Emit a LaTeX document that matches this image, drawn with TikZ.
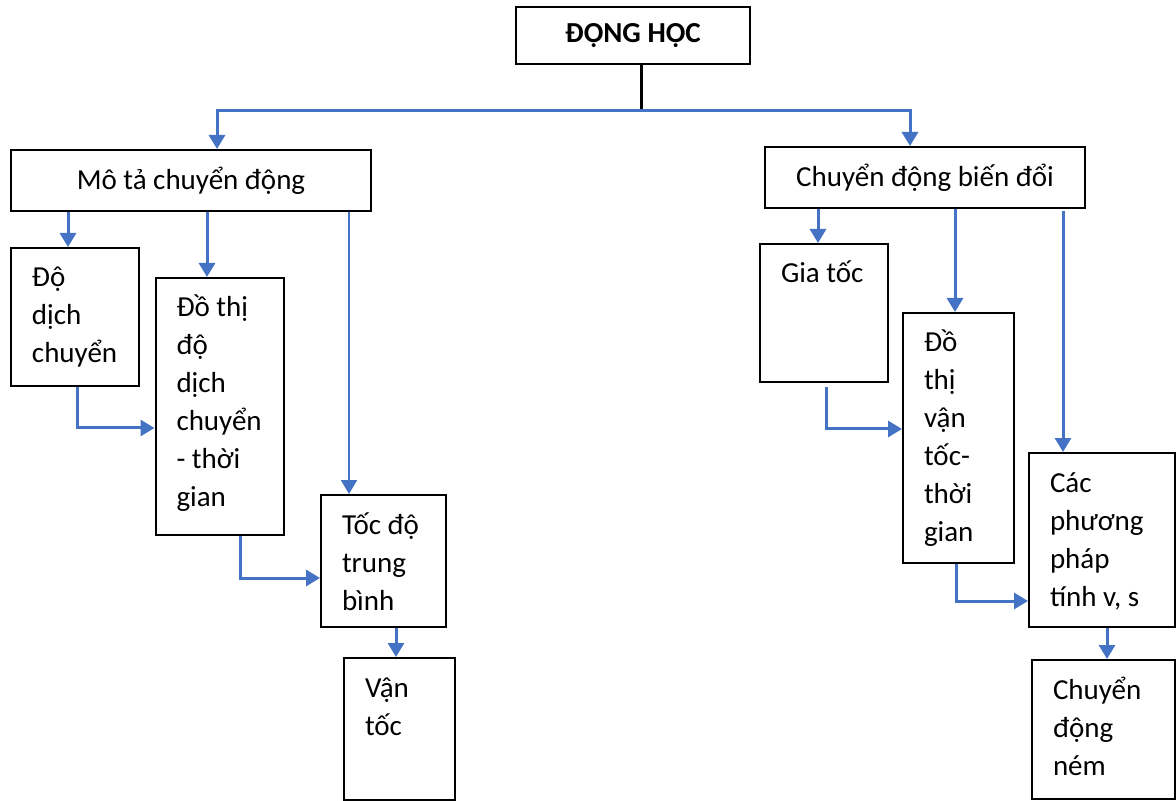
\documentclass[tikz,border=0pt]{standalone}
\usepackage{fontspec}
\setmainfont{Carlito}
\usetikzlibrary{arrows.meta}
\definecolor{linkblue}{RGB}{68,114,196}
\hyphenpenalty=10000

\begin{document}
\begin{tikzpicture}[node distance=70pt,
  font=\fontsize{14.5}{19}\selectfont,
  box/.style={rectangle, draw=black, line width=1pt, inner sep=0pt, text centered},
  tallbox/.style={rectangle, draw=black, line width=1pt, align=flush left, inner xsep=10.5pt, inner ysep=10.5pt, text height=9pt},
  link/.style={draw=linkblue, line width=1.5pt, -{Triangle[width=8pt,length=7pt]}},
  thinlink/.style={link, line width=1pt}]
\useasboundingbox (0,0) rectangle (588pt,-400.5pt);

% Tiêu đề
\node (donghoc) [box, minimum width=117pt, minimum height=28.5pt, font=\fontsize{14.5}{19}\selectfont\bfseries] at (316.5pt,-17.75pt) {ĐỘNG HỌC};

% Hai nhánh chính
\node (mota) [box, minimum width=180pt, minimum height=30.5pt, below of=donghoc, xshift=-221pt, yshift=-2.5pt] {Mô tả chuyển động};
\node (biendoi) [box, minimum width=160pt, minimum height=30.5pt, below of=donghoc, xshift=146pt, yshift=-1pt] {Chuyển động biến đổi};

% Nhánh trái
\node (dichchuyen) [tallbox, text width=43pt, text depth=39pt, below of=mota, xshift=-58pt, yshift=1.75pt] {Độ\\dịch\\chuyển};
\node (dothidc) [tallbox, text width=43pt, text depth=98.5pt, below of=mota, xshift=14.25pt, yshift=-43pt] {Đồ thị\\độ\\dịch\\chuyển\\- thời\\gian};
\node (tocdo) [tallbox, text width=41.5pt, text depth=36pt, below of=dothidc, xshift=82pt, yshift=-7.25pt] {Tốc độ\\trung\\bình};
\node (vantoc) [tallbox, text width=34.5pt, text depth=41pt, below of=tocdo, xshift=8pt, yshift=-14pt] {Vận\\tốc};

% Nhánh phải
\node (giatoc) [tallbox, text width=43pt, text depth=39pt, below of=biendoi, xshift=-50.5pt, yshift=2.25pt] {Gia tốc};
\node (dothivt) [tallbox, text width=34.5pt, text depth=95pt, below of=biendoi, xshift=16.75pt, yshift=-60.25pt] {Đồ\\thị\\vận\\tốc-\\thời\\gian};
\node (phuongphap) [tallbox, text width=52pt, text depth=57pt, below of=dothivt, xshift=71.75pt, yshift=19pt] {Các\\phương\\pháp\\tính v, s};
\node (nem) [tallbox, text width=50.5pt, text depth=39.5pt, below of=phuongphap, xshift=0.75pt, yshift=-24.75pt] {Chuyển\\động\\ném};

% Nối
\draw[line width=1.5pt] ([xshift=4pt]donghoc.south) -- ++(0,-22.75pt) coordinate (tach);
\draw[link] (tach) -| ([xshift=13pt]mota.north);
\draw[link] (tach) -| ([xshift=-7.5pt]biendoi.north);

\draw[link] ([xshift=-3.5pt]dichchuyen.north |- mota.south) -- ([xshift=-3.5pt]dichchuyen.north);
\draw[link] ([xshift=-6.25pt]dothidc.north |- mota.south) -- ([xshift=-6.25pt]dothidc.north);
\draw[thinlink] ([xshift=-17.25pt]tocdo.north |- mota.south) -- ([xshift=-17.25pt]tocdo.north);
\draw[link] ([xshift=1pt]dichchuyen.south) |- ([yshift=-10.75pt]dothidc.west);
\draw[link] ([xshift=10.25pt]dothidc.south) |- ([yshift=-8.5pt]tocdo.west);
\draw[link] ([xshift=6.25pt]tocdo.south) -- ([xshift=6.25pt]tocdo.south |- vantoc.north);

\draw[link] ([xshift=-3pt]giatoc.north |- biendoi.south) -- ([xshift=-3pt]giatoc.north);
\draw[link] ([xshift=-1.75pt]dothivt.north |- biendoi.south) -- ([xshift=-1.75pt]dothivt.north);
\draw[link] ([xshift=-19.5pt,yshift=-1pt]phuongphap.north |- biendoi.south) -- ([xshift=-19.5pt]phuongphap.north);
\draw[link] ([xshift=1pt,yshift=-2pt]giatoc.south) |- ([yshift=4.5pt]dothivt.west);
\draw[link] ([xshift=-1.25pt]dothivt.south) |- ([yshift=-30.5pt]phuongphap.west);
\draw[link] ([xshift=2.5pt]phuongphap.south) -- ([xshift=2.5pt]phuongphap.south |- nem.north);

\end{tikzpicture}
\end{document}
